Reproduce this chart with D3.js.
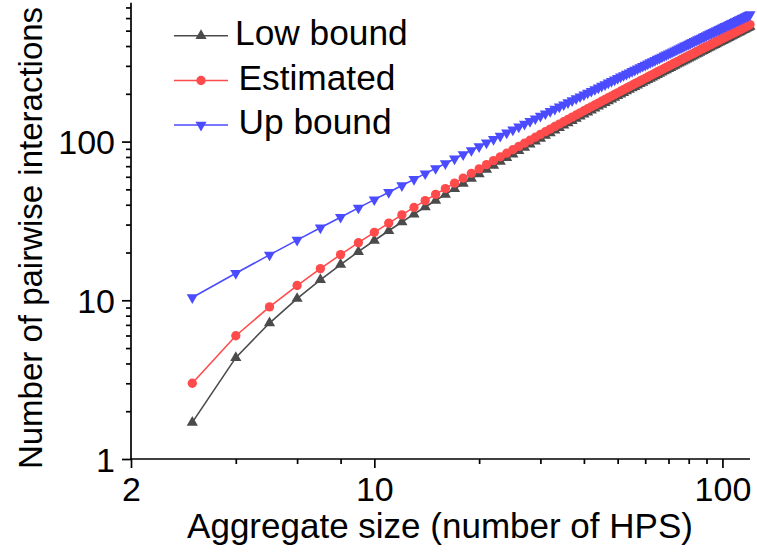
<!DOCTYPE html>
<html>
<head>
<meta charset="utf-8">
<script src="https://cdn.jsdelivr.net/npm/d3@7"></script>
<style>
  html, body { margin: 0; padding: 0; background: #fff; }
  svg { display: block; }
  text { font-family: "Liberation Sans", Arial, sans-serif; fill: #000; }
</style>
</head>
<body>
<svg id="chart" width="757" height="554"></svg>
<script>
// ---- data ----
const aggregateSize = [3,4,5,6,7,8,9,10,11,12,13,14,15,16,17,18,19,20,21,22,23,24,25,26,27,28,29,30,31,32,33,34,35,36,37,38,39,40,41,42,43,44,45,46,47,48,49,50,51,52,53,54,55,56,57,58,59,60,61,62,63,64,65,66,67,68,69,70,71,72,73,74,75,76,77,78,79,80,81,82,83,84,85,86,87,88,89,90,91,92,93,94,95,96,97,98,99,100,101,102,103,104,105,106,107,108,109,110,111,112,113,114,115,116,117,118,119,120];

const lowBound = [1.7,4.35,7.19,10.25,13.46,16.8,20.25,23.8,27.42,31.12,34.88,38.69,42.56,46.47,50.43,54.43,58.46,62.53,66.63,70.76,74.92,79.1,83.31,87.54,91.8,96.08,100.37,104.69,109.03,113.38,117.75,122.14,126.54,130.96,135.39,139.84,144.3,148.77,153.26,157.75,162.26,166.79,171.32,175.86,180.42,184.98,189.55,194.14,198.73,203.33,207.94,212.56,217.19,221.83,226.47,231.13,235.79,240.46,245.13,249.81,254.5,259.2,263.9,268.61,273.33,278.05,282.78,287.52,292.26,297.01,301.76,306.52,311.28,316.05,320.83,325.61,330.39,335.18,339.98,344.78,349.58,354.39,359.21,364.03,368.85,373.68,378.51,383.35,388.19,393.04,397.89,402.74,407.6,412.47,417.33,422.2,427.08,431.95,436.84,441.72,446.61,451.5,456.4,461.3,466.2,471.11,476.02,480.93,485.85,490.77,495.69,500.61,505.54,510.48,515.41,520.35,525.29,530.24];

const estimated = [3.0,5.98,9.09,12.39,15.84,19.4,23.06,26.81,30.64,34.52,38.47,42.47,46.51,50.6,54.73,58.89,63.09,67.32,71.58,75.86,80.17,84.51,88.87,93.25,97.65,102.07,106.51,110.97,115.44,119.93,124.44,128.96,133.5,138.05,142.61,147.18,151.77,156.37,160.99,165.61,170.24,174.89,179.54,184.21,188.88,193.57,198.26,202.96,207.67,212.39,217.12,221.85,226.59,231.34,236.1,240.87,245.64,250.42,255.2,260.0,264.8,269.6,274.41,279.23,284.05,288.88,293.72,298.56,303.4,308.26,313.11,317.97,322.84,327.71,332.59,337.47,342.36,347.25,352.15,357.05,361.95,366.86,371.78,376.69,381.62,386.54,391.47,396.41,401.35,406.29,411.23,416.18,421.14,426.09,431.05,436.02,440.99,445.96,450.93,455.91,460.89,465.88,470.87,475.86,480.85,485.85,490.85,495.85,500.86,505.87,510.88,515.9,520.92,525.94,530.96,535.99,541.02,546.05];

const upBound = [10.41,14.8,19.33,23.95,28.64,33.4,38.21,43.06,47.95,52.87,57.82,62.8,67.8,72.82,77.87,82.93,88.01,93.11,98.22,103.34,108.48,113.63,118.79,123.97,129.15,134.34,139.55,144.76,149.98,155.21,160.45,165.69,170.95,176.21,181.47,186.74,192.02,197.31,202.6,207.9,213.2,218.51,223.82,229.14,234.46,239.79,245.13,250.46,255.8,261.15,266.5,271.85,277.21,282.57,287.94,293.31,298.68,304.06,309.44,314.82,320.21,325.6,330.99,336.39,341.79,347.19,352.6,358.0,363.42,368.83,374.25,379.67,385.09,390.51,395.94,401.37,406.8,412.23,417.67,423.11,428.55,433.99,439.44,444.89,450.34,455.79,461.24,466.7,472.16,477.62,483.08,488.54,494.01,499.47,504.94,510.41,515.89,521.36,526.84,532.32,537.8,543.28,548.76,554.25,559.73,565.22,570.71,576.2,581.7,587.19,592.69,598.19,603.68,609.18,614.69,620.19,625.69,631.2];

const seriesNames = ["Low bound", "Estimated", "Up bound"];
const xMajorTicks = [2, 10, 100];
const xMinorTicks = [4, 6, 8, 20, 30, 40, 50, 60, 70, 80, 90];
const yMajorTicks = [1, 10, 100];
const yMinorTicks = [2,3,4,5,6,7,8,9,20,30,40,50,60,70,80,90,200,300,400,500,600,700];
const xTitle = "Aggregate size (number of HPS)";
const yTitle = "Number of pairwise interactions";

// ---- drawing ----
const svg = d3.select("#chart");
const plot = { left: 131, right: 750, top: 2.7, bottom: 459 };

const x = d3.scaleLog().domain([2, 120]).range([plot.left, plot.right]);
const y = d3.scaleLog().domain([1, 750]).range([plot.bottom, plot.top]);

const styles = [
  { color: "#4b4b4b", symbol: d3.symbolTriangle, size: 54, rotate: 0 },
  { color: "#ff4b4b", symbol: d3.symbolCircle, size: 68, rotate: 0 },
  { color: "#4b4bff", symbol: d3.symbolTriangle, size: 54, rotate: 180 }
];
const seriesData = [lowBound, estimated, upBound];

const tickFont = 34;
const fontFam = '"Liberation Sans", Arial, sans-serif';

// X axis
const gx = svg.append("g").attr("transform", `translate(0,${plot.bottom})`);
gx.call(d3.axisBottom(x).tickValues(xMajorTicks).tickSize(9).tickSizeOuter(0)
  .tickFormat(d3.format("d")));
gx.select(".domain").attr("stroke", "#000").attr("stroke-width", 1.7)
  .attr("d", `M${plot.left - 1},0H${plot.right}`);
gx.selectAll(".tick line").attr("stroke", "#000").attr("stroke-width", 1.7);
gx.selectAll(".tick text").attr("y", 42).attr("dy", 0)
  .style("font-size", tickFont + "px").style("font-family", fontFam).attr("fill", "#000");
const gxm = svg.append("g").attr("transform", `translate(0,${plot.bottom})`);
gxm.call(d3.axisBottom(x).tickValues(xMinorTicks).tickSize(5).tickSizeOuter(0).tickFormat(""));
gxm.select(".domain").remove();
gxm.selectAll(".tick line").attr("stroke", "#000").attr("stroke-width", 1.7);

// Y axis
const gy = svg.append("g").attr("transform", `translate(${plot.left},0)`);
gy.call(d3.axisLeft(y).tickValues(yMajorTicks).tickSize(9).tickSizeOuter(0)
  .tickFormat(d3.format("d")));
gy.select(".domain").attr("stroke", "#000").attr("stroke-width", 1.7)
  .attr("d", `M0,${plot.bottom + 1}V${plot.top}`);
gy.selectAll(".tick line").attr("stroke", "#000").attr("stroke-width", 1.7);
gy.selectAll(".tick text").attr("x", -16).attr("dy", "0.36em")
  .style("font-size", tickFont + "px").style("font-family", fontFam).attr("fill", "#000");
const gym = svg.append("g").attr("transform", `translate(${plot.left},0)`);
gym.call(d3.axisLeft(y).tickValues(yMinorTicks).tickSize(5).tickSizeOuter(0).tickFormat(""));
gym.select(".domain").remove();
gym.selectAll(".tick line").attr("stroke", "#000").attr("stroke-width", 1.7);

// Titles
svg.append("text").attr("x", 440).attr("y", 538).attr("text-anchor", "middle")
  .style("font-size", "35px").text(xTitle);
svg.append("text").attr("transform", "translate(42,238) rotate(-90)")
  .attr("text-anchor", "middle").style("font-size", "33px").text(yTitle);

// Series
const line = d3.line().x((d, i) => x(aggregateSize[i])).y(d => y(d));

seriesData.forEach((vals, si) => {
  const st = styles[si];
  const g = svg.append("g");
  g.append("path").datum(vals).attr("d", line).attr("fill", "none")
    .attr("stroke", st.color).attr("stroke-width", 1.6);
  g.selectAll("path.m").data(vals).join("path").attr("class", "m")
    .attr("d", d3.symbol().type(st.symbol).size(st.size))
    .attr("transform", (d, i) => `translate(${x(aggregateSize[i])},${y(d)}) rotate(${st.rotate})`)
    .attr("fill", st.color);
});

// Legend
const legendRows = [35.7, 80.5, 125];
const lg = svg.append("g");
seriesNames.forEach((name, i) => {
  const st = styles[i];
  const yy = legendRows[i];
  lg.append("line").attr("x1", 174).attr("x2", 228).attr("y1", yy).attr("y2", yy)
    .attr("stroke", st.color).attr("stroke-width", 1.6);
  lg.append("path").attr("d", d3.symbol().type(st.symbol).size(st.size))
    .attr("transform", `translate(201,${yy}) rotate(${st.rotate})`).attr("fill", st.color);
  lg.append("text").attr("x", i === 0 ? 235 : 238.5).attr("y", yy + 9)
    .style("font-size", "35.3px").text(name);
});
</script>
</body>
</html>
